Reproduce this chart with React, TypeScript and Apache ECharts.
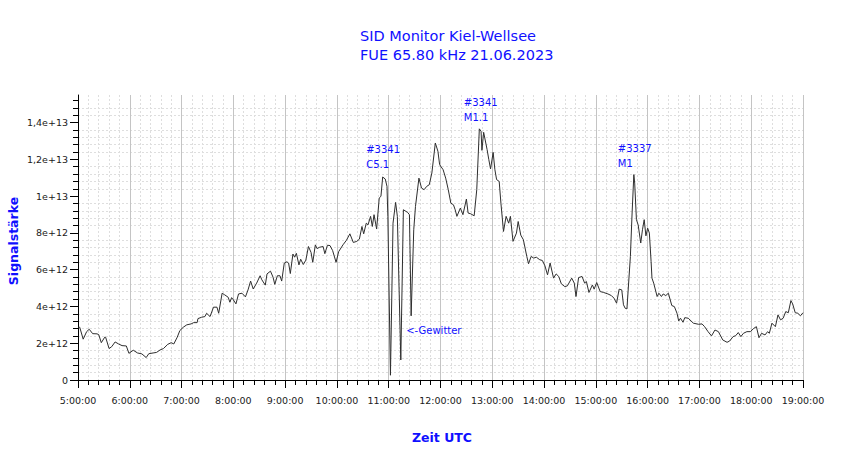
import React, { useEffect, useRef } from "react";
import * as echarts from "echarts";

// ---- data (time in minutes after 00:00 UTC, signal in units of 1e12) ----
const times: number[] = [
  300, 302, 306, 310, 313, 317, 322, 324, 327, 331, 332, 336, 339, 343, 347, 351, 356, 359, 364, 369,
  374, 379, 382, 387, 391, 395, 399, 404, 408, 411, 415, 418, 422, 426, 431, 434, 438, 439, 443, 447,
  449, 453, 457, 461, 463, 467, 470, 474, 476, 478, 480, 483, 486, 490, 494, 497, 500, 503, 507, 511,
  513, 517, 519, 523, 526, 528, 531, 534, 536, 539, 542, 544, 546, 549, 551, 553, 556, 558, 561, 564,
  567, 570, 572, 575, 577, 580, 584, 586, 589, 592, 595, 599, 602, 607,
  611, 615, 619, 623, 626, 629, 631, 634, 636, 639, 641, 643, 646, 649, 651, 653, 656, 658, 659, 662,
  665, 668, 670, 674, 677, 682, 684, 686, 689, 691, 695, 698, 701, 704, 707, 710, 714, 717, 719, 723,
  726, 729, 732, 735, 737, 739, 743, 746, 750, 752, 755, 759, 762, 765, 767, 768, 770, 774, 776, 778,
  781, 783, 785, 788, 790, 793, 796, 799, 801, 804, 808, 810, 813, 816, 820, 822, 825, 828, 831, 835,
  838, 841, 844, 847,
  851, 854, 857, 860, 864, 867, 872, 875, 877, 880, 884, 887, 889, 892, 896, 898, 901, 905, 909, 914,
  918, 921, 924, 927, 930, 932, 934, 936, 940, 942, 944, 945, 947, 949, 952, 954, 956, 958, 960, 962,
  964, 965, 967, 971, 973, 976, 978, 981, 984, 988, 991, 994, 996, 998, 1001, 1003, 1007, 1013, 1019, 1023,
  1026, 1030, 1034, 1038, 1042, 1047, 1052, 1055, 1059, 1062, 1065, 1068, 1071, 1075, 1079, 1083, 1086, 1089, 1092, 1096,
  1099, 1101, 1104, 1108, 1111, 1114, 1117, 1120, 1123, 1126, 1128, 1131, 1134, 1137, 1140,
];

const signalE12: number[] = [
  2.87, 2.87, 2.22, 2.63, 2.76, 2.52, 2.51, 2.47, 2.03, 2.33, 2.33, 1.71, 1.81, 2.07, 1.96, 1.87, 1.85, 1.45, 1.62, 1.47,
  1.42, 1.22, 1.43, 1.47, 1.5, 1.63, 1.71, 1.94, 2.03, 1.96, 2.33, 2.69, 2.87, 3.0, 3.05, 3.12, 3.12, 3.34, 3.41, 3.45,
  3.63, 3.45, 3.96, 3.96, 3.63, 4.72, 4.63, 4.5, 4.23, 4.48, 4.36, 4.14, 4.68, 4.72, 4.52, 4.9, 5.38, 4.95, 5.27, 5.67,
  5.45, 5.16, 5.77, 5.92, 5.59, 5.2, 5.67, 5.67, 5.38, 6.36, 6.43, 6.36, 5.79, 6.85, 6.68, 6.89, 6.26, 6.57, 6.28, 6.52,
  7.26, 6.94, 6.4, 7.35, 7.15, 7.22, 7.26, 6.87, 7.33, 7.31, 7.04, 6.4, 6.98, 7.35,
  7.6, 7.95, 7.48, 7.54, 7.66, 8.35, 7.95, 8.53, 8.44, 8.9, 8.35, 8.99, 8.21, 9.9, 9.99, 11.04, 10.93, 10.53, 8.9, 0.26,
  8.53, 9.66, 8.9, 1.09, 9.26, 9.11, 8.99, 3.49, 8.17, 9.44, 10.98, 10.44, 10.35, 10.53, 10.62, 11.26, 12.89, 12.44, 11.71, 11.44,
  10.98, 10.35, 9.62, 9.53, 9.26, 8.9, 9.35, 8.99, 9.84, 9.08, 9.04, 8.93, 10.35, 13.66, 13.53, 12.49, 13.47, 12.53, 11.98, 11.48,
  12.38, 11.44, 10.9, 10.8, 9.62, 8.08, 8.9, 8.53, 8.9, 7.54, 7.99, 8.62, 7.88, 7.63, 6.72, 6.32, 6.72, 6.63, 6.68, 6.54,
  6.5, 6.21, 5.72, 6.36,
  5.54, 5.77, 5.63, 5.23, 5.08, 5.12, 5.54, 5.27, 4.54, 5.57, 5.63, 5.27, 5.36, 4.76, 5.17, 4.94, 5.3, 4.81, 4.76, 4.68,
  4.59, 4.45, 4.18, 4.94, 4.9, 4.09, 3.9, 3.87, 6.72, 9.08, 11.17, 10.71, 8.72, 8.44, 7.45, 8.17, 8.72, 7.84, 8.26, 7.99,
  6.44, 5.54, 5.27, 4.54, 4.72, 4.54, 4.68, 4.59, 4.72, 4.05, 3.99, 3.63, 3.21, 3.36, 3.14, 3.39, 3.36, 3.09, 3.03, 3.05,
  2.9, 2.63, 2.4, 2.72, 2.63, 2.18, 2.05, 2.12, 2.36, 2.41, 2.58, 2.36, 2.54, 2.63, 2.63, 2.81, 2.9, 2.3, 2.54, 2.45,
  2.63, 2.54, 3.09, 2.9, 3.54, 3.27, 3.36, 3.72, 3.66, 4.32, 4.14, 3.66, 3.63, 3.49, 3.66,
];

// y tick label values (units of 1e12) and minor tick step
const yLabelValuesE12: number[] = [0, 2, 4, 6, 8, 10, 12, 14];
const yMinorStepE12 = 0.4;

// annotations: text, time (minutes), value (1e12) of the text's top-left corner
const annotationTexts: string[] = ["#3341\nC5.1", "#3341\nM1.1", "#3337\nM1", "<-Gewitter"];
const annotationTimes: number[] = [634.5, 747.6, 926, 680.8];
const annotationValuesE12: number[] = [12.94, 15.48, 12.99, 3.08];

const titleLines: string[] = ["SID Monitor Kiel-Wellsee", "FUE 65.80 kHz 21.06.2023"];
const xAxisTitle = "Zeit UTC";
const yAxisTitle = "Signalstärke";

const E12 = 1e12;
const BLUE = "#1010ff";
const FONT = "DejaVu Sans";

function formatSci(v: number): string {
  if (v === 0) return "0";
  const exp = Math.floor(Math.log10(v) + 1e-9);
  const m = Math.round((v / Math.pow(10, exp)) * 10) / 10;
  return `${String(m).replace(".", ",")}e+${exp}`;
}

export default function App() {
  const ref = useRef<HTMLDivElement>(null);

  useEffect(() => {
    if (!ref.current) return;
    const chart = echarts.init(ref.current, null, { renderer: "svg" });

    const seriesData = times.map((t, i) => [t, signalE12[i] * E12]);
    const yMax = 15.5 * E12;
    const majorVals = yLabelValuesE12.map((v) => v * E12);
    const minorVals: number[] = [];
    for (let k = 0; k * yMinorStepE12 <= 15.2 + 1e-9; k++) {
      const v = Math.round(k * yMinorStepE12 * 10) / 10;
      if (Math.abs(v / 2 - Math.round(v / 2)) > 1e-9) minorVals.push(v * E12);
    }

    const dashGrid = { color: "#dedede", width: 1, type: [2, 2] as number[] };

    chart.setOption({
      animation: false,
      backgroundColor: "#ffffff",
      textStyle: { fontFamily: FONT },
      grid: { left: 78, right: 47, top: 95, bottom: 79, containLabel: false },
      graphic: [
        {
          type: "text",
          left: 360,
          top: 28,
          style: { text: titleLines[0], fill: BLUE, font: `14.5px "${FONT}"` },
        },
        {
          type: "text",
          left: 360,
          top: 47,
          style: { text: titleLines[1], fill: BLUE, font: `14.5px "${FONT}"` },
        },
        {
          type: "text",
          x: 442,
          y: 437,
          style: {
            text: xAxisTitle,
            fill: BLUE,
            font: `bold 12.5px "${FONT}"`,
            align: "center",
            verticalAlign: "middle",
          },
        },
        {
          type: "text",
          x: 13.5,
          y: 241,
          rotation: Math.PI / 2,
          style: {
            text: yAxisTitle,
            fill: BLUE,
            font: `bold 12.5px "${FONT}"`,
            align: "center",
            verticalAlign: "middle",
          },
        },
      ],
      xAxis: {
        type: "value",
        min: 300,
        max: 1140,
        interval: 60,
        axisLine: { show: true, onZero: false, lineStyle: { color: "#000", width: 1 } },
        axisTick: { show: true, length: 8, lineStyle: { color: "#000" } },
        minorTick: { show: true, splitNumber: 5, length: 5, lineStyle: { color: "#000" } },
        axisLabel: {
          margin: 15,
          color: "#1a1a1a",
          fontFamily: FONT,
          fontSize: 9.5,
          formatter: (v: number) => `${Math.round(v / 60)}:00:00`,
        },
        splitLine: { show: true, lineStyle: { color: "#c4c4c4", width: 1 } },
        minorSplitLine: { show: true, lineStyle: dashGrid },
      },
      yAxis: [
        {
          type: "value",
          min: 0,
          max: yMax,
          interval: yMinorStepE12 * E12,
          axisLine: { show: true, onZero: false, lineStyle: { color: "#000", width: 1 } },
          axisTick: { show: true, length: 5, customValues: minorVals, lineStyle: { color: "#000" } },
          axisLabel: {
            customValues: majorVals,
            margin: 10,
            color: "#1a1a1a",
            fontFamily: FONT,
            fontSize: 9.5,
            formatter: (v: number) => formatSci(v),
          },
          splitLine: {
            show: true,
            showMaxLine: false,
            lineStyle: dashGrid,
          },
        },
        {
          type: "value",
          min: 0,
          max: yMax,
          position: "left",
          axisLine: { show: false },
          axisTick: { show: true, length: 8, customValues: majorVals, lineStyle: { color: "#000" } },
          axisLabel: { show: false },
          splitLine: { show: false },
        },
      ],
      series: [
        {
          type: "line",
          data: seriesData,
          yAxisIndex: 0,
          showSymbol: false,
          symbol: "none",
          lineStyle: { color: "#2e2e2e", width: 1 },
          markPoint: {
            silent: true,
            symbol: "circle",
            symbolSize: 1,
            itemStyle: { color: "rgba(0,0,0,0)" },
            label: {
              show: true,
              position: [0, 0],
              align: "left",
              verticalAlign: "top",
              color: BLUE,
              fontFamily: FONT,
              fontSize: 10,
              lineHeight: 15,
              formatter: (p: any) => p.name,
            },
            data: annotationTexts.map((txt, i) => ({
              name: txt,
              coord: [annotationTimes[i], annotationValuesE12[i] * E12],
            })),
          },
        },
      ],
    });

    return () => chart.dispose();
  }, []);

  return (
    <div
      ref={ref}
      style={{ position: "fixed", left: 0, top: 0, width: 850, height: 459, background: "#fff" }}
    />
  );
}
